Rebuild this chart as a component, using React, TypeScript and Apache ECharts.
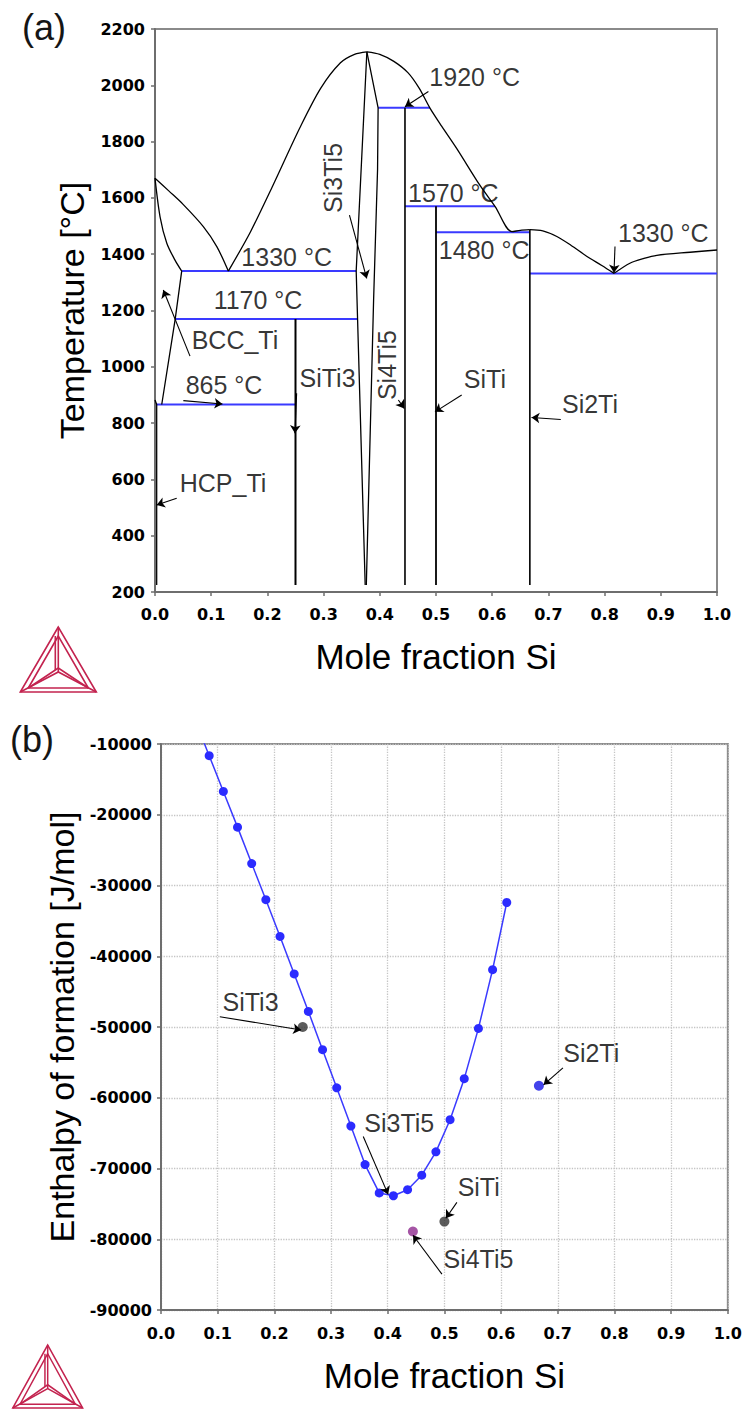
import React, { useEffect, useRef } from "react";
import * as echarts from "echarts";

// ---------- (a) Ti–Si phase diagram: [mole fraction Si, temperature °C] ----------
const liquidusTi = [[0, 1670], [0.025, 1624], [0.05, 1577], [0.086, 1498], [0.11, 1427], [0.1305, 1340]];
const solidusBcc = [[0, 1670], [0.009, 1533], [0.021, 1439], [0.0356, 1379], [0.0475, 1340]];
const solvusBcc = [[0.0475, 1340], [0.036, 1170], [0.012, 866]];
const hcpBoundary = [[0, 882], [0.003, 866], [0.003, 225]];
const liquidusDomeLeft = [[0.1305, 1340], [0.17, 1480], [0.21, 1645], [0.258, 1850], [0.295, 1990], [0.33, 2080], [0.355, 2110], [0.377, 2119]];
const liquidusDomeRight = [[0.377, 2119], [0.4, 2110], [0.425, 2085], [0.45, 2045], [0.47, 1990], [0.489, 1920], [0.51, 1855], [0.537, 1775], [0.578, 1645], [0.605, 1570], [0.635, 1480], [0.65, 1485], [0.667, 1487]];
const liquidusSi2Ti = [[0.667, 1487], [0.69, 1483], [0.715, 1463], [0.74, 1432], [0.768, 1393], [0.795, 1360], [0.817, 1332]];
const liquidusSi = [[0.817, 1332], [0.845, 1368], [0.87, 1385], [0.893, 1396], [0.952, 1407], [1, 1415]];
const si3ti5Left = [[0.377, 2119], [0.358, 1340], [0.374, 225]];
const si3ti5Right = [[0.377, 2119], [0.397, 1920], [0.396, 1700], [0.389, 1240], [0.376, 225]];
const siti3Line = [[0.25, 1170], [0.25, 225]];
const si4ti5Line = [[0.4448, 1920], [0.4448, 225]];
const sitiLine = [[0.5, 1570], [0.5, 225]];
const si2tiLine = [[0.667, 1487], [0.667, 225]];

const isotherm1330a = [[0.0475, 1340], [0.358, 1340]];
const isotherm1170 = [[0.036, 1170], [0.3604, 1170]];
const isotherm865 = [[0.003, 866], [0.25, 866]];
const isotherm1920 = [[0.397, 1920], [0.489, 1920]];
const isotherm1570 = [[0.4448, 1570], [0.605, 1570]];
const isotherm1480 = [[0.5, 1478], [0.667, 1478]];
const isotherm1330b = [[0.667, 1331], [1, 1331]];

const labelsA = [
  { name: "1330 °C", value: [0.2343, 1391] },
  { name: "1170 °C", value: [0.1833, 1237] },
  { name: "BCC_Ti", value: [0.1423, 1095] },
  { name: "865 °C", value: [0.1228, 935] },
  { name: "SiTi3", value: [0.307, 960] },
  { name: "HCP_Ti", value: [0.121, 587] },
  { name: "Si3Ti5", value: [0.3167, 1671], rotate: 90 },
  { name: "Si4Ti5", value: [0.4123, 1006], rotate: 90 },
  { name: "SiTi", value: [0.587, 957] },
  { name: "Si2Ti", value: [0.774, 868] },
  { name: "1920 °C", value: [0.5688, 2031] },
  { name: "1570 °C", value: [0.5308, 1616] },
  { name: "1480 °C", value: [0.5857, 1415] },
  { name: "1330 °C", value: [0.9045, 1474] },
];

const arrowsA = [
  [[0.346, 1539], [0.3767, 1314]],
  [[0.0623, 1038], [0.0148, 1273]],
  [[0.0504, 880], [0.12, 868]],
  [[0.252, 906], [0.249, 764]],
  [[0.0386, 533], [0.003, 509]],
  [[0.433, 882], [0.4435, 852]],
  [[0.5457, 900], [0.4982, 840]],
  [[0.722, 813], [0.67, 820]],
  [[0.4865, 1978], [0.4448, 1924]],
  [[0.8185, 1427], [0.8167, 1334]],
];

// ---------- (b) enthalpy of formation: [mole fraction Si, J/mol] ----------
const liquidX = [0.06, 0.085, 0.11, 0.135, 0.16, 0.185, 0.21, 0.235, 0.26, 0.285, 0.31, 0.335, 0.36, 0.385, 0.41, 0.435, 0.46, 0.485, 0.51, 0.535, 0.56, 0.585, 0.61];
const liquidH = [-6600, -11650, -16700, -21750, -26900, -32000, -37200, -42500, -47800, -53200, -58600, -64000, -69450, -73450, -73850, -73000, -70950, -67650, -63100, -57300, -50200, -41900, -32400];

const compoundNames = ["SiTi3", "Si4Ti5", "SiTi", "Si2Ti"];
const compoundX = [0.25, 0.4444, 0.5, 0.6667];
const compoundH = [-50000, -78900, -77500, -58300];
const compoundColors = ["#333333", "#8e2a8e", "#333333", "#1414e6"];

const labelsB = [
  { name: "SiTi3", value: [0.158, -46480] },
  { name: "Si2Ti", value: [0.759, -53660] },
  { name: "Si3Ti5", value: [0.4204, -63520] },
  { name: "SiTi", value: [0.5605, -72680] },
  { name: "Si4Ti5", value: [0.56, -82820] },
];

const arrowsB = [
  [[0.1037, -48550], [0.2473, -50420]],
  [[0.7091, -55780], [0.6749, -58170]],
  [[0.3568, -65490], [0.4007, -73660]],
  [[0.522, -74790], [0.5026, -77040]],
  [[0.4956, -84930], [0.4446, -79440]],
];

const BLACK = "#000";
const BLUE = "#3a3aff";
const LOGO = "#c3234f";
const TICK_FONT = { fontFamily: "DejaVu Sans", fontWeight: "bold" as const, fontSize: 16, color: "#000" };
const ANN_FONT = "Liberation Sans";

function curve(data: number[][], color: string, width: number, smooth: number | boolean, grid: number) {
  return {
    type: "line",
    xAxisIndex: grid,
    yAxisIndex: grid,
    data,
    symbol: "none",
    showSymbol: false,
    smooth,
    silent: true,
    lineStyle: { color, width },
    z: color === BLUE ? 2 : 3,
  };
}

function labelSeries(items: any[], grid: number) {
  return {
    type: "scatter",
    xAxisIndex: grid,
    yAxisIndex: grid,
    symbolSize: 1,
    silent: true,
    itemStyle: { color: "rgba(0,0,0,0)" },
    z: 6,
    data: items.map((it) => ({
      name: it.name,
      value: it.value,
      label: it.rotate ? { rotate: it.rotate } : undefined,
    })),
    label: {
      show: true,
      position: "inside",
      formatter: "{b}",
      fontFamily: ANN_FONT,
      fontSize: 25,
      color: "#000",
      align: "center",
      verticalAlign: "middle",
    },
  };
}

function arrowSeries(arrows: number[][][], grid: number) {
  return {
    type: "lines",
    coordinateSystem: "cartesian2d",
    xAxisIndex: grid,
    yAxisIndex: grid,
    silent: true,
    symbol: ["none", "arrow"],
    symbolSize: 8,
    z: 7,
    lineStyle: { color: "#000", width: 1.1, opacity: 1 },
    data: arrows.map((a) => ({ coords: a })),
  };
}

function logo(x: number, y: number, sx: number, sy: number) {
  const st = { fill: "none", stroke: LOGO, lineWidth: 1.6 };
  return {
    type: "group",
    x,
    y,
    scaleX: sx,
    scaleY: sy,
    silent: true,
    children: [
      { type: "polygon", shape: { points: [[0, 0], [-38, 65], [38, 65]] }, style: st },
      { type: "polygon", shape: { points: [[0, 9], [-30, 61], [30, 61]] }, style: st },
      { type: "polyline", shape: { points: [[0, 0], [0, 45]] }, style: st },
      { type: "polyline", shape: { points: [[-38, 65], [0, 45], [38, 65]] }, style: st },
      { type: "polyline", shape: { points: [[-30, 61], [0, 41], [30, 61]] }, style: st },
      { type: "polyline", shape: { points: [[-3, 9], [-3, 43]] }, style: st },
    ],
  };
}

const axisLineStyle = { lineStyle: { color: "#6e6e6e", width: 2 } };
const tickStyle = { show: true, length: 4, lineStyle: { color: "#6e6e6e", width: 1.5 } };
const plainNumber = (v: number) => String(v);

const option = {
  animation: false,
  backgroundColor: "#fff",
  grid: [
    { left: 155, top: 29, width: 562, height: 563, show: true, borderColor: "#8a8a8a", borderWidth: 2, backgroundColor: "transparent" },
    { left: 161, top: 744, width: 569, height: 566, show: true, borderColor: "#8a8a8a", borderWidth: 2, backgroundColor: "transparent" },
  ],
  xAxis: [
    {
      gridIndex: 0, type: "value", min: 0, max: 1, interval: 0.1,
      axisLine: axisLineStyle, axisTick: tickStyle, splitLine: { show: false },
      axisLabel: { ...TICK_FONT, margin: 14, formatter: (v: number) => v.toFixed(1) },
      name: "Mole fraction Si", nameLocation: "middle", nameGap: 47,
      nameTextStyle: { fontFamily: ANN_FONT, fontSize: 35, color: "#000" },
    },
    {
      gridIndex: 1, type: "value", min: 0, max: 1, interval: 0.1,
      axisLine: axisLineStyle, axisTick: tickStyle,
      splitLine: { show: true, lineStyle: { type: "dotted", color: "#c4c4c4", width: 1.3 } },
      axisLabel: { ...TICK_FONT, margin: 15, formatter: (v: number) => v.toFixed(1) },
      name: "Mole fraction Si", nameLocation: "middle", nameGap: 48,
      nameTextStyle: { fontFamily: ANN_FONT, fontSize: 35, color: "#000" },
    },
  ],
  yAxis: [
    {
      gridIndex: 0, type: "value", min: 200, max: 2200, interval: 200,
      axisLine: axisLineStyle, axisTick: tickStyle, splitLine: { show: false },
      axisLabel: { ...TICK_FONT, margin: 10, formatter: plainNumber },
      name: "Temperature [°C]", nameLocation: "middle", nameGap: 66,
      nameTextStyle: { fontFamily: ANN_FONT, fontSize: 34, color: "#000" },
    },
    {
      gridIndex: 1, type: "value", min: -90000, max: -10000, interval: 10000,
      axisLine: axisLineStyle, axisTick: tickStyle,
      splitLine: { show: true, lineStyle: { type: "dotted", color: "#c4c4c4", width: 1.3 } },
      axisLabel: { ...TICK_FONT, margin: 9, formatter: plainNumber },
      name: "Enthalpy of formation [J/mol]", nameLocation: "middle", nameGap: 79,
      nameTextStyle: { fontFamily: ANN_FONT, fontSize: 34, color: "#000" },
    },
  ],
  series: [
    // (a) blue invariant lines
    curve(isotherm1330a, BLUE, 2, false, 0),
    curve(isotherm1170, BLUE, 2, false, 0),
    curve(isotherm865, BLUE, 2, false, 0),
    curve(isotherm1920, BLUE, 2, false, 0),
    curve(isotherm1570, BLUE, 2, false, 0),
    curve(isotherm1480, BLUE, 2, false, 0),
    curve(isotherm1330b, BLUE, 2, false, 0),
    // (a) phase boundaries
    curve(liquidusTi, BLACK, 1.3, 0.3, 0),
    curve(solidusBcc, BLACK, 1.3, 0.3, 0),
    curve(solvusBcc, BLACK, 1.3, false, 0),
    curve(hcpBoundary, BLACK, 1.3, false, 0),
    curve(liquidusDomeLeft, BLACK, 1.3, 0.3, 0),
    curve(liquidusDomeRight, BLACK, 1.3, 0.3, 0),
    curve(liquidusSi2Ti, BLACK, 1.3, 0.3, 0),
    curve(liquidusSi, BLACK, 1.3, 0.3, 0),
    curve(si3ti5Left, BLACK, 1.3, false, 0),
    curve(si3ti5Right, BLACK, 1.3, false, 0),
    curve(siti3Line, BLACK, 2, false, 0),
    curve(si4ti5Line, BLACK, 1.6, false, 0),
    curve(sitiLine, BLACK, 1.8, false, 0),
    curve(si2tiLine, BLACK, 1.6, false, 0),
    labelSeries(labelsA, 0),
    arrowSeries(arrowsA, 0),
    // (b)
    {
      type: "line",
      xAxisIndex: 1,
      yAxisIndex: 1,
      data: liquidX.map((x, i) => [x, liquidH[i]]),
      symbol: "circle",
      symbolSize: 9,
      showSymbol: true,
      clip: true,
      silent: true,
      itemStyle: { color: "#2b2bff" },
      lineStyle: { color: BLUE, width: 1.5 },
      z: 3,
    },
    {
      type: "scatter",
      xAxisIndex: 1,
      yAxisIndex: 1,
      silent: true,
      symbolSize: 10,
      z: 4,
      data: compoundNames.map((n, i) => ({
        name: n,
        value: [compoundX[i], compoundH[i]],
        itemStyle: { color: compoundColors[i] },
      })),
    },
    labelSeries(labelsB, 1),
    arrowSeries(arrowsB, 1),
  ],
  graphic: [
    { type: "text", left: 22, top: 9, style: { text: "(a)", fontFamily: ANN_FONT, fontSize: 36, fill: "#151515" } },
    { type: "text", left: 10, top: 721, style: { text: "(b)", fontFamily: ANN_FONT, fontSize: 36, fill: "#151515" } },
    logo(58.3, 627, 1, 1),
    logo(47.7, 1345, 0.92, 0.97),
  ],
};

export default function App() {
  const ref = useRef<HTMLDivElement>(null);
  useEffect(() => {
    const chart = echarts.init(ref.current as HTMLDivElement, null, { renderer: "svg" });
    chart.setOption(option as any);
    return () => chart.dispose();
  }, []);
  return (
    <div
      ref={ref}
      style={{ position: "absolute", left: 0, top: 0, width: 745, height: 1409, background: "#fff" }}
    />
  );
}
